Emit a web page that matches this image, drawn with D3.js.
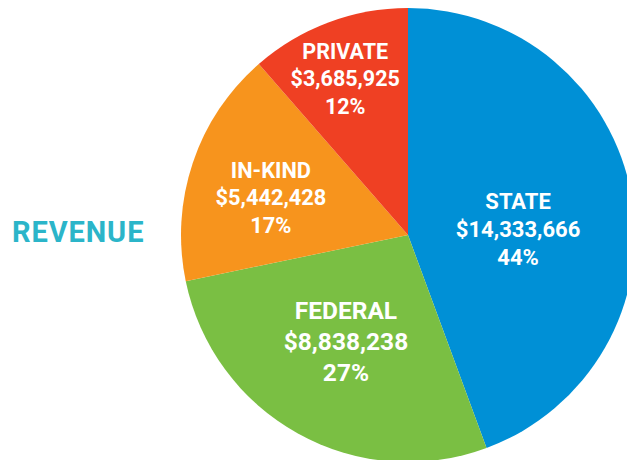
<!DOCTYPE html>
<html>
<head>
<meta charset="utf-8">
<script src="https://cdn.jsdelivr.net/npm/d3@7"></script>
<style>
    html, body { margin: 0; padding: 0; background: #fff; }
    svg { display: block; }
</style>
</head>
<body>
<div id="chart"></div>
<script>
;(function () {
    "use strict";

    // data
    var categories = ["STATE", "FEDERAL", "IN-KIND", "PRIVATE"];
    var amounts    = [14333666, 8838238, 5442428, 3685925];
    var percents   = ["44%", "27%", "17%", "12%"];
    var title      = "REVENUE";

    // styling / layout
    var colors   = ["#0090d6", "#7abf43", "#f7941d", "#ef4023"];
    var fontSize = [22, 24.5, 21.8, 21.5];
    var nudge    = [[-24, 18], [4, -13], [-8, 6], [-15, -29]];

    var width = 627, height = 460;
    var cx = 408, cy = 235, radius = 227;

    var svg = d3.select("#chart").append("svg")
        .attr("width", width)
        .attr("height", height);

    var pie = d3.pie().sort(null).value(function (d) { return d; });
    var arc = d3.arc().innerRadius(0).outerRadius(radius);
    var labelArc = d3.arc().innerRadius(radius * 0.6).outerRadius(radius * 0.6);
    var money = d3.format("$,");

    var g = svg.append("g").attr("transform", "translate(" + cx + "," + cy + ")");
    var arcs = pie(amounts);

    g.selectAll("path.slice")
        .data(arcs)
        .enter().append("path")
        .attr("class", "slice")
        .attr("d", arc)
        .attr("fill", function (d, i) { return colors[i]; });

    var labels = g.selectAll("text.lbl")
        .data(arcs)
        .enter().append("text")
        .attr("class", "lbl")
        .attr("text-anchor", "middle")
        .attr("fill", "#fff")
        .attr("font-family", "Roboto, 'Noto Sans', sans-serif")
        .attr("font-weight", 700)
        .attr("font-size", function (d, i) { return fontSize[i]; })
        .attr("transform", function (d, i) {
            var c = labelArc.centroid(d);
            return "translate(" + (c[0] + nudge[i][0]) + "," + (c[1] + nudge[i][1]) + ")";
        });

    labels.each(function (d, i) {
        var t = d3.select(this);
        var lines = [categories[i], money(amounts[i]), percents[i]];
        lines.forEach(function (s, k) {
            t.append("tspan")
                .attr("x", 0)
                .attr("y", ((k - 1) * 1.28 + 0.36) + "em")
                .text(s);
        });
    });

    svg.append("text")
        .attr("x", 12)
        .attr("y", 242)
        .attr("fill", "#2bb5c9")
        .attr("font-family", "Roboto, 'Noto Sans', sans-serif")
        .attr("font-weight", 700)
        .attr("font-size", 29)
        .attr("letter-spacing", 0.9)
        .text(title);
}());
</script>
</body>
</html>
